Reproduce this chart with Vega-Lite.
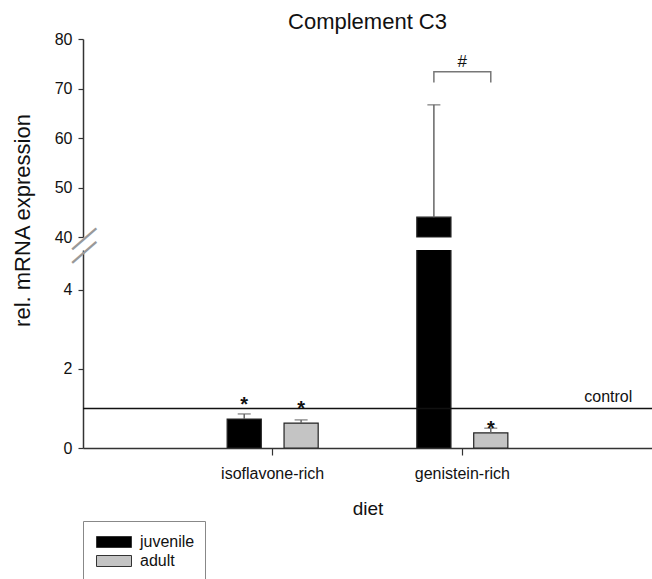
{
  "$schema": "https://vega.github.io/schema/vega-lite/v6.json",
  "padding": {"left": 11, "top": 11, "right": 0, "bottom": 0},
  "bounds": "flush",
  "title": {"text": "Complement C3", "fontSize": 22, "fontWeight": "normal", "font": "Liberation Sans", "color": "#111", "offset": -3, "anchor": "middle", "frame": "group"},
  "datasets": {
    "bars": [
      {"diet": "isoflavone-rich", "age": "juvenile", "mean": 0.73, "upper": 0.86},
      {"diet": "isoflavone-rich", "age": "adult", "mean": 0.63, "upper": 0.71},
      {"diet": "genistein-rich", "age": "juvenile", "mean": 44.0, "upper": 66.7},
      {"diet": "genistein-rich", "age": "adult", "mean": 0.38, "upper": 0.5}
    ],
    "stars": [
      {"diet": "isoflavone-rich", "age": "juvenile", "y": 1.22, "label": "*"},
      {"diet": "isoflavone-rich", "age": "adult", "y": 1.11, "label": "*"},
      {"diet": "genistein-rich", "age": "adult", "y": 0.61, "label": "*"}
    ],
    "bracket": [
      {"diet": "genistein-rich", "age": "juvenile", "y": 71.2, "o": 1},
      {"diet": "genistein-rich", "age": "juvenile", "y": 73.4, "o": 2},
      {"diet": "genistein-rich", "age": "adult", "y": 73.4, "o": 3},
      {"diet": "genistein-rich", "age": "adult", "y": 71.2, "o": 4}
    ],
    "hash": [{"diet": "genistein-rich", "y": 75.45, "label": "#"}],
    "control": [{"diet": "genistein-rich", "y": 1, "label": "control"}],
    "breaks": [{"y": 5.316}, {"y": 4.975}]
  },
  "spacing": 13,
  "resolve": {"scale": {"color": "independent", "x": "independent", "y": "independent", "xOffset": "independent"}, "legend": {"color": "independent"}},
  "vconcat": [
    {
      "width": 569,
      "height": 198,
      "layer": [
        {
          "data": {"name": "bars"},
          "transform": [{"filter": "datum.mean > 40"}],
          "mark": {"type": "bar", "stroke": "#222", "strokeWidth": 1.2},
          "encoding": {
            "x": {"field": "diet", "type": "nominal", "sort": null, "axis": null,
                  "scale": {"domain": ["isoflavone-rich", "genistein-rich"], "paddingInner": 0.52, "paddingOuter": 0.76}},
            "xOffset": {"field": "age", "type": "nominal", "scale": {"domain": ["juvenile", "adult"], "paddingInner": 0.4, "paddingOuter": 0}},
            "y": {"field": "mean", "type": "quantitative", "title": "rel. mRNA expression",
                  "scale": {"domain": [40, 80], "nice": false, "zero": false},
                  "axis": {"values": [40, 50, 60, 70, 80], "tickSize": 5, "labelPadding": 6, "domainColor": "#333", "domainWidth": 1.5, "tickColor": "#333", "tickWidth": 1.2, "titleFontSize": 22, "titleY": 181, "titlePadding": 20}},
            "y2": {"datum": 40},
            "color": {"field": "age", "type": "nominal", "legend": null,
                      "scale": {"domain": ["juvenile", "adult"], "range": ["#000000", "#c4c4c4"]}}
          }
        },
        {
          "data": {"name": "bars"},
          "transform": [{"filter": "datum.mean > 40"}],
          "mark": {"type": "rule", "color": "#666", "strokeWidth": 1.5},
          "encoding": {
            "x": {"field": "diet", "type": "nominal", "sort": null, "axis": null},
            "xOffset": {"field": "age", "type": "nominal"},
            "y": {"field": "mean", "type": "quantitative"},
            "y2": {"field": "upper"}
          }
        },
        {
          "data": {"name": "bars"},
          "transform": [{"filter": "datum.mean > 40"}],
          "mark": {"type": "tick", "color": "#666", "thickness": 1.5, "size": 13, "orient": "horizontal"},
          "encoding": {
            "x": {"field": "diet", "type": "nominal", "sort": null, "axis": null},
            "xOffset": {"field": "age", "type": "nominal"},
            "y": {"field": "upper", "type": "quantitative"}
          }
        },
        {
          "data": {"name": "bracket"},
          "mark": {"type": "line", "color": "#777", "strokeWidth": 1.5},
          "encoding": {
            "x": {"field": "diet", "type": "nominal", "sort": null, "axis": null},
            "xOffset": {"field": "age", "type": "nominal"},
            "y": {"field": "y", "type": "quantitative"},
            "order": {"field": "o"}
          }
        },
        {
          "data": {"name": "hash"},
          "mark": {"type": "text", "fontSize": 17, "font": "Liberation Sans", "baseline": "middle", "color": "#111"},
          "encoding": {
            "x": {"field": "diet", "type": "nominal", "sort": null, "axis": null},
            "y": {"field": "y", "type": "quantitative"},
            "text": {"field": "label"}
          }
        }
      ]
    },
    {
      "width": 569,
      "height": 198,
      "layer": [
        {
          "data": {"name": "bars"},
          "mark": {"type": "bar", "stroke": "#222", "strokeWidth": 1.2, "clip": true},
          "encoding": {
            "x": {"field": "diet", "type": "nominal", "sort": null, "title": "diet",
                  "scale": {"domain": ["isoflavone-rich", "genistein-rich"], "paddingInner": 0.52, "paddingOuter": 0.76},
                  "axis": {"labelAngle": 0, "tickSize": 7, "labelPadding": 10, "labelFontSize": 16, "titleFontSize": 19, "titlePadding": 18, "domainColor": "#333", "domainWidth": 1.5, "tickColor": "#333", "tickWidth": 1.2}},
            "xOffset": {"field": "age", "type": "nominal", "scale": {"domain": ["juvenile", "adult"], "paddingInner": 0.4, "paddingOuter": 0}},
            "y": {"field": "mean", "type": "quantitative", "title": null,
                  "scale": {"domain": [0, 5], "nice": false},
                  "axis": {"values": [0, 2, 4], "tickSize": 5, "labelPadding": 6, "domainColor": "#333", "domainWidth": 1.5, "tickColor": "#333", "tickWidth": 1.2}},
            "color": {"field": "age", "type": "nominal",
                      "scale": {"domain": ["juvenile", "adult"], "range": ["#000000", "#c4c4c4"]},
                      "legend": {"title": null, "orient": "none", "legendX": 0, "legendY": 271, "padding": 10.5, "strokeColor": "#888", "symbolType": "M-0.75,-0.55H2.75V0.55H-0.75Z", "symbolSize": 400, "symbolStrokeColor": "#333", "symbolStrokeWidth": 1, "symbolOpacity": 1, "labelOffset": 25.5, "labelFontSize": 16, "rowPadding": 0, "labelFont": "Liberation Sans", "labelColor": "#111"}}
          }
        },
        {
          "data": {"name": "bars"},
          "mark": {"type": "rule", "color": "#666", "strokeWidth": 1.5, "clip": true},
          "encoding": {
            "x": {"field": "diet", "type": "nominal", "sort": null},
            "xOffset": {"field": "age", "type": "nominal"},
            "y": {"field": "mean", "type": "quantitative", "title": null},
            "y2": {"field": "upper"}
          }
        },
        {
          "data": {"name": "bars"},
          "mark": {"type": "tick", "color": "#666", "thickness": 1.5, "size": 13, "orient": "horizontal", "clip": true},
          "encoding": {
            "x": {"field": "diet", "type": "nominal", "sort": null},
            "xOffset": {"field": "age", "type": "nominal"},
            "y": {"field": "upper", "type": "quantitative", "title": null}
          }
        },
        {
          "data": {"name": "stars"},
          "mark": {"type": "text", "fontSize": 20, "fontWeight": "bold", "font": "Liberation Sans", "baseline": "alphabetic", "dy": 11, "color": "#111"},
          "encoding": {
            "x": {"field": "diet", "type": "nominal", "sort": null},
            "xOffset": {"field": "age", "type": "nominal"},
            "y": {"field": "y", "type": "quantitative", "title": null},
            "text": {"field": "label"}
          }
        },
        {
          "data": {"values": [{"y": 1}]},
          "mark": {"type": "rule", "color": "#111", "strokeWidth": 1.5},
          "encoding": {"y": {"field": "y", "type": "quantitative", "title": null}}
        },
        {
          "data": {"name": "control"},
          "mark": {"type": "text", "fontSize": 16, "font": "Liberation Sans", "align": "right", "baseline": "alphabetic", "dy": -6, "dx": 170, "color": "#111"},
          "encoding": {
            "x": {"field": "diet", "type": "nominal", "sort": null},
            "y": {"field": "y", "type": "quantitative", "title": null},
            "text": {"field": "label"}
          }
        },
        {
          "data": {"name": "breaks"},
          "mark": {"type": "text", "text": "—", "fontSize": 32, "font": "Liberation Sans", "align": "center", "baseline": "middle", "angle": -41, "color": "#999"},
          "encoding": {"x": {"value": 0}, "y": {"field": "y", "type": "quantitative", "title": null}}
        }
      ]
    }
  ],
  "config": {
    "view": {"stroke": null},
    "font": "Liberation Sans",
    "axis": {"grid": false, "labelFontSize": 16, "labelColor": "#111", "titleColor": "#111", "titleFontWeight": "normal", "labelFont": "Liberation Sans", "titleFont": "Liberation Sans"}
  }
}
